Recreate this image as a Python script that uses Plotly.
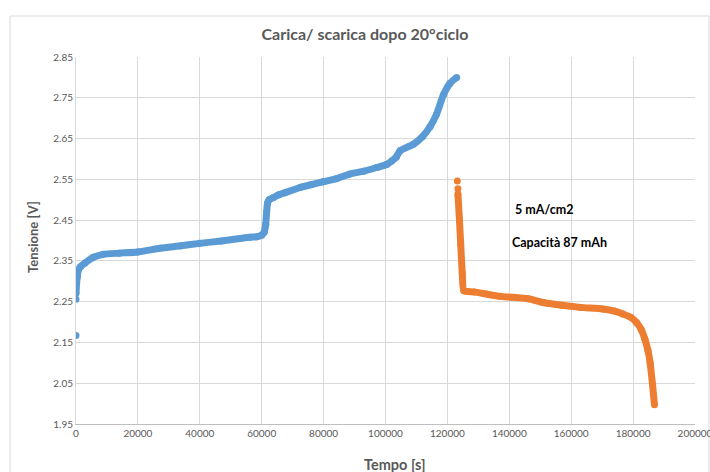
import plotly.graph_objects as go

# Charge (blue) – isolated first readings
carica_iso_t = [0, 0]
carica_iso_v = [2.167, 2.256]

# Charge (blue) – main curve
carica_t = [0, 200, 400, 740, 1500, 2900, 5600, 8800, 14000, 20000, 27100, 34000, 40000,
            47000, 53000, 56200, 58400, 60000, 60800, 61300, 61600, 61900, 62400, 63700,
            65500, 67500, 72400, 76000, 79900, 84200, 88500, 93000, 97200, 100500,
            102000, 103500, 104700, 109000, 112000, 114400, 116500, 118700, 120800, 123000]
carica_v = [2.270, 2.295, 2.310, 2.327, 2.336, 2.345, 2.359, 2.366, 2.369, 2.372, 2.381,
            2.387, 2.393, 2.399, 2.405, 2.408, 2.409, 2.413, 2.420, 2.440, 2.470, 2.492,
            2.500, 2.505, 2.512, 2.517, 2.530, 2.537, 2.544, 2.552, 2.563, 2.570, 2.579,
            2.587, 2.595, 2.605, 2.620, 2.636, 2.655, 2.679, 2.710, 2.757, 2.785, 2.800]

# Discharge (orange) – isolated first readings
scarica_iso_t = [123200, 123400]
scarica_iso_v = [2.546, 2.527]

# Discharge (orange) – main curve
scarica_t = [123400, 123900, 124300, 124800, 125300, 126500, 128600, 133000, 137000,
             140600, 146100, 151000, 157000, 163000, 170200, 174000, 176700, 179200,
             181100, 182600, 183800, 184800, 185500, 186300, 186900]
scarica_v = [2.514, 2.450, 2.390, 2.320, 2.277, 2.275, 2.274, 2.268, 2.263, 2.261, 2.257,
             2.248, 2.241, 2.236, 2.232, 2.227, 2.220, 2.212, 2.199, 2.182, 2.158, 2.130,
             2.100, 2.045, 1.997]

x_ticks = [0, 20000, 40000, 60000, 80000, 100000, 120000, 140000, 160000, 180000, 200000]
y_ticks = [1.95, 2.05, 2.15, 2.25, 2.35, 2.45, 2.55, 2.65, 2.75, 2.85]

BLUE = "#5B9BD5"
ORANGE = "#ED7D31"
FONT = "Lato"
GREY = "#595959"

L, R, T, B = 76, 695, 57, 424
PW, PH = R - L, B - T


def px(xp):
    return (xp - L) / PW


def py(yp):
    return (B - yp) / PH


fig = go.Figure()
fig.add_trace(go.Scatter(x=carica_iso_t, y=carica_iso_v, mode="markers",
                         marker=dict(color=BLUE, size=7), showlegend=False))
fig.add_trace(go.Scatter(x=carica_t, y=carica_v, mode="lines+markers",
                         line=dict(color=BLUE, width=7, shape="spline", smoothing=0.6),
                         marker=dict(color=BLUE, size=7), showlegend=False))
fig.add_trace(go.Scatter(x=scarica_iso_t, y=scarica_iso_v, mode="markers",
                         marker=dict(color=ORANGE, size=7), showlegend=False))
fig.add_trace(go.Scatter(x=scarica_t, y=scarica_v, mode="lines+markers",
                         line=dict(color=ORANGE, width=7, shape="spline", smoothing=0.6),
                         marker=dict(color=ORANGE, size=7), showlegend=False))

fig.update_layout(
    width=710, height=472,
    margin=dict(l=L, r=710 - R, t=T, b=472 - B, autoexpand=False),
    paper_bgcolor="white", plot_bgcolor="white",
    font=dict(family=FONT, color=GREY),
    title=dict(text="<b>Carica/ scarica dopo 20°ciclo</b>", x=0.514, xanchor="center",
               y=1 - 34 / 472, yanchor="middle",
               font=dict(family=FONT, size=16, color=GREY)),
    xaxis=dict(range=[0, 200000], tickvals=x_ticks, ticktext=[str(t) for t in x_ticks],
               showgrid=True, gridcolor="#D9D9D9", gridwidth=1,
               showline=True, linecolor="#BFBFBF", linewidth=1, zeroline=False,
               ticks="", ticklabeloverflow="allow", automargin=False,
               tickfont=dict(family=FONT, size=10, color=GREY)),
    yaxis=dict(range=[1.95, 2.85], tickvals=y_ticks, ticktext=[f"{t:.2f}" for t in y_ticks],
               showgrid=True, gridcolor="#D9D9D9", gridwidth=1,
               showline=True, linecolor="#D9D9D9", linewidth=1, zeroline=False,
               ticks="", automargin=False,
               tickfont=dict(family=FONT, size=10, color=GREY)),
    annotations=[
        dict(text="<b>Tempo [s]</b>", x=px(395), y=py(464),
             xref="paper", yref="paper", xanchor="center", yanchor="middle",
             showarrow=False, font=dict(family=FONT, size=14.5, color=GREY)),
        dict(text="<b>Tensione [V]</b>", x=px(33), y=py(237), textangle=-90,
             xref="paper", yref="paper", xanchor="center", yanchor="middle",
             showarrow=False, font=dict(family=FONT, size=13, color=GREY)),
        dict(text="<b>5 mA/cm2</b>", x=px(544), y=py(209),
             xref="paper", yref="paper", xanchor="center", yanchor="middle",
             showarrow=False, font=dict(family=FONT, size=12.5, color="black")),
        dict(text="<b>Capacità 87 mAh</b>", x=px(559), y=py(242),
             xref="paper", yref="paper", xanchor="center", yanchor="middle",
             showarrow=False, font=dict(family=FONT, size=12.5, color="black")),
    ],
    shapes=[
        dict(type="rect", xref="paper", yref="paper",
             x0=px(10), x1=px(709), y0=py(480), y1=py(16),
             line=dict(color="#D9D9D9", width=1), layer="below"),
    ],
)

fig.write_html("out.html")
